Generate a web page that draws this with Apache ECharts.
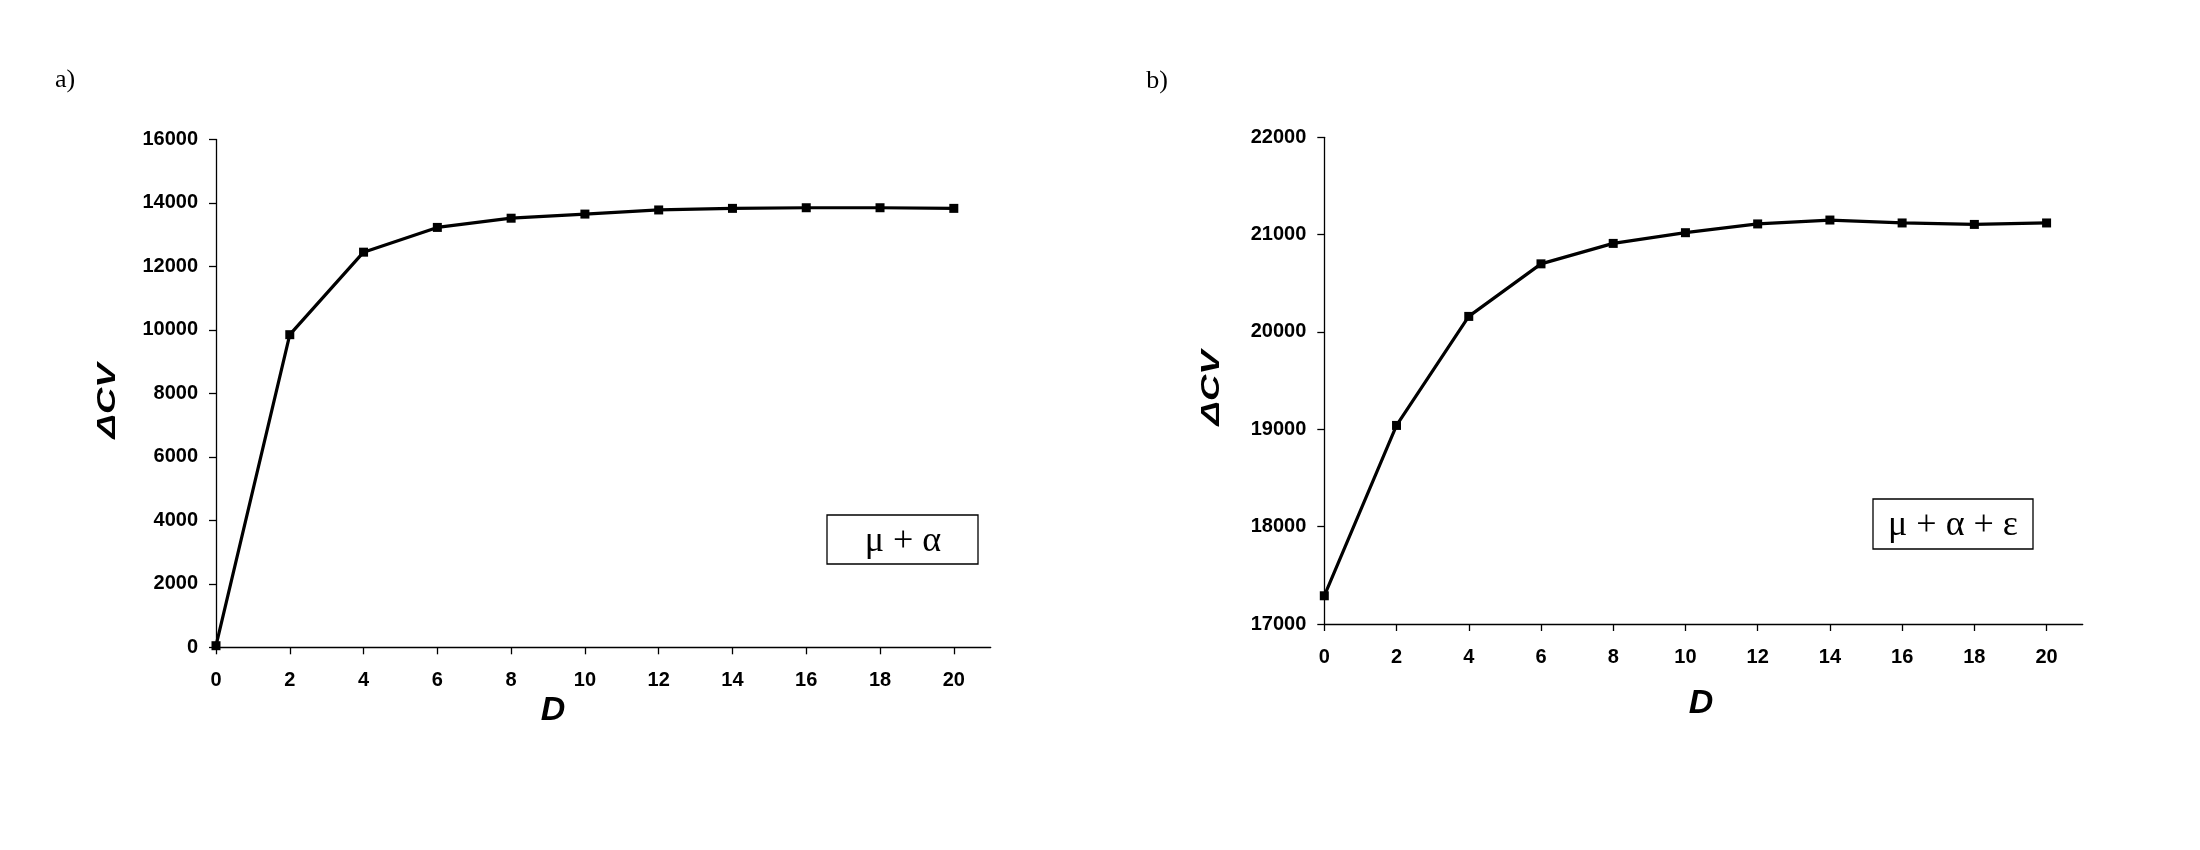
<!DOCTYPE html>
<html>
<head>
<meta charset="utf-8">
<script src="https://cdn.jsdelivr.net/npm/echarts@6/dist/echarts.min.js"></script>
<style>
html,body{margin:0;padding:0;background:#fff;}
#chart{width:2200px;height:850px;}
</style>
</head>
<body>
<div id="chart"></div>
<script>
// ---- data ----
const dValues = [0, 2, 4, 6, 8, 10, 12, 14, 16, 18, 20];
const xTicks = [0, 2, 4, 6, 8, 10, 12, 14, 16, 18, 20];
const cvA = [50, 9850, 12450, 13230, 13520, 13650, 13780, 13830, 13850, 13850, 13830];
const cvB = [17290, 19040, 20160, 20700, 20910, 21020, 21110, 21150, 21120, 21105, 21120];
const yTicksA = [0, 2000, 4000, 6000, 8000, 10000, 12000, 14000, 16000];
const yTicksB = [17000, 18000, 19000, 20000, 21000, 22000];
const panelLabels = ['a)', 'b)'];
const modelLabels = ['\u03BC + \u03B1', '\u03BC + \u03B1 + \u03B5'];
const yTitle = '\u0394CV';
const xTitle = 'D';

const tickFont = {color: '#000', fontFamily: 'Liberation Sans, Arial, sans-serif', fontWeight: 'bold', fontSize: 20};

function xAxisCfg(gridIndex) {
  return {
    type: 'value', gridIndex: gridIndex, min: 0, max: 21,
    axisLine: {show: true, lineStyle: {color: '#000', width: 1.3}},
    axisTick: {show: true, length: 7, lineStyle: {color: '#000', width: 1.3}, customValues: xTicks},
    axisLabel: Object.assign({margin: 23, customValues: xTicks, formatter: v => String(v)}, tickFont),
    splitLine: {show: false}
  };
}
function yAxisCfg(gridIndex, ticks) {
  return {
    type: 'value', gridIndex: gridIndex,
    min: ticks[0], max: ticks[ticks.length - 1], interval: ticks[1] - ticks[0],
    axisLine: {show: true, lineStyle: {color: '#000', width: 1.3}},
    axisTick: {show: true, length: 7, lineStyle: {color: '#000', width: 1.3}},
    axisLabel: Object.assign({margin: 18, formatter: v => String(v)}, tickFont),
    splitLine: {show: false}
  };
}
function seriesCfg(idx, vals) {
  return {
    type: 'line', xAxisIndex: idx, yAxisIndex: idx,
    data: dValues.map((d, i) => [d, vals[i]]),
    symbol: 'rect', symbolSize: 9,
    lineStyle: {color: '#000', width: 3.2},
    itemStyle: {color: '#000'},
    z: 5
  };
}
function txt(x, y, text, font, rotation, sx) {
  return {type: 'text', x: x, y: y, rotation: rotation || 0, scaleX: sx || 1,
    style: {text: text, font: font, fill: '#000', align: 'center', verticalAlign: 'middle'}};
}
function box(x, y, w, h, text, tx, ty) {
  return [
    {type: 'rect', shape: {x: x, y: y, width: w, height: h}, style: {fill: '#fff', stroke: '#000', lineWidth: 1.3}, z: 10},
    {type: 'text', x: tx, y: ty, z: 11,
     style: {text: text, font: '36px "Liberation Serif", "Times New Roman", serif', fill: '#000', align: 'center', verticalAlign: 'middle'}}
  ];
}
const yTitleFont = 'bold italic 26px "Liberation Sans", Arial, sans-serif';
const xTitleFont = 'bold italic 34px "Liberation Sans", Arial, sans-serif';
const panelFont = '26px "Liberation Serif", "Times New Roman", serif';

const chart = echarts.init(document.getElementById('chart'), null, {renderer: 'canvas'});
chart.setOption({
  animation: false,
  backgroundColor: '#fff',
  grid: [
    {left: 216, top: 139.5, width: 774.7, height: 507.8},
    {left: 1324.3, top: 137.3, width: 758.4, height: 486.7}
  ],
  xAxis: [xAxisCfg(0), xAxisCfg(1)],
  yAxis: [yAxisCfg(0, yTicksA), yAxisCfg(1, yTicksB)],
  series: [seriesCfg(0, cvA), seriesCfg(1, cvB)],
  graphic: [
    txt(65, 80, panelLabels[0], panelFont),
    txt(1157, 81, panelLabels[1], panelFont),
    txt(108, 401, yTitle, yTitleFont, Math.PI / 2, 1.4),
    txt(1212, 388, yTitle, yTitleFont, Math.PI / 2, 1.4),
    txt(553, 711, xTitle, xTitleFont),
    txt(1701, 704, xTitle, xTitleFont)
  ].concat(box(827, 515, 151, 49, modelLabels[0], 903, 542))
   .concat(box(1873, 499, 160, 50, modelLabels[1], 1953, 526))
});
</script>
</body>
</html>
